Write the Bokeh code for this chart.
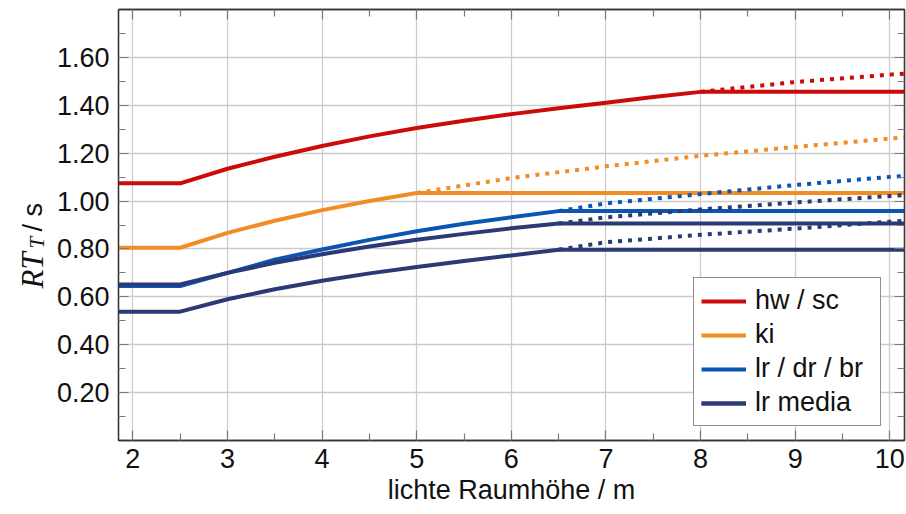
import math
from bokeh.plotting import figure
from bokeh.layouts import row
from bokeh.models import (Range1d, FixedTicker, PrintfTickFormatter, LinearAxis,
                          Legend, LegendItem)
from bokeh.core.properties import value
from bokeh.embed import file_html
from bokeh.resources import INLINE

# ---------------- data ----------------
# hw / sc (solid and dotted extension)
hw_x = [1.85, 2.5, 3, 3.5, 4, 4.5, 5, 5.5, 6, 6.5, 7, 7.5, 8, 10.15]
hw_y = [1.074, 1.074, 1.135, 1.185, 1.230, 1.270, 1.305, 1.335, 1.363, 1.388, 1.411, 1.435, 1.456, 1.456]
hw_ext_x = [8, 9, 10, 10.15]
hw_ext_y = [1.456, 1.497, 1.528, 1.532]

# ki
ki_x = [1.85, 2.5, 3, 3.5, 4, 4.5, 5, 10.15]
ki_y = [0.805, 0.805, 0.867, 0.918, 0.962, 1.000, 1.034, 1.034]
ki_ext_x = [5, 6, 7, 8, 9, 10, 10.15]
ki_ext_y = [1.034, 1.096, 1.145, 1.189, 1.226, 1.261, 1.265]

# lr / dr / br
lr_x = [1.85, 2.5, 3, 3.5, 4, 4.5, 5, 5.5, 6, 6.5, 10.15]
lr_y = [0.645, 0.645, 0.700, 0.755, 0.798, 0.838, 0.874, 0.905, 0.932, 0.958, 0.958]
lr_ext_x = [6.5, 7, 8, 9, 10, 10.15]
lr_ext_y = [0.958, 0.990, 1.029, 1.067, 1.101, 1.105]

# lr media (two curves)
med1_x = [1.85, 2.5, 3, 3.5, 4, 4.5, 5, 5.5, 6, 6.5, 10.15]
med1_y = [0.652, 0.652, 0.700, 0.742, 0.778, 0.810, 0.838, 0.863, 0.886, 0.906, 0.906]
med1_ext_x = [6.5, 7, 8, 9, 10, 10.15]
med1_ext_y = [0.906, 0.932, 0.965, 0.994, 1.021, 1.025]

med2_x = [1.85, 2.5, 3, 3.5, 4, 4.5, 5, 5.5, 6, 6.5, 10.15]
med2_y = [0.538, 0.538, 0.590, 0.632, 0.667, 0.698, 0.725, 0.750, 0.773, 0.797, 0.797]
med2_ext_x = [6.5, 7, 8, 9, 10, 10.15]
med2_ext_y = [0.797, 0.828, 0.859, 0.885, 0.914, 0.918]

x_ticks = [2, 3, 4, 5, 6, 7, 8, 9, 10]
x_minor = [2.5, 3.5, 4.5, 5.5, 6.5, 7.5, 8.5, 9.5]
y_ticks = [0.2, 0.4, 0.6, 0.8, 1.0, 1.2, 1.4, 1.6]
y_minor = [0.1, 0.3, 0.5, 0.7, 0.9, 1.1, 1.3, 1.5, 1.7]

labels = ["hw / sc", "ki", "lr / dr / br", "lr media"]
colors = ["#cc0a0a", "#f28c24", "#0b55b5", "#2b3a75"]

# y-axis title pieces: R T (italic), subscript T, "/ s"
ylab_main = "RT"
ylab_sub = "T"
ylab_unit = "/ s"

# ---------------- layout sizes ----------------
W, H = 906, 514
LAB_W = 90          # width of the y-label strip
OVERLAP = 45        # main figure overlaps the (empty) right part of the strip
FONT = "Liberation Sans"
FS = "27px"

# ---------------- y label strip (pixel-based ranges) ----------------
lab = figure(frame_width=LAB_W, frame_height=H, output_backend="svg",
             toolbar_location=None, title=None,
             x_range=Range1d(0, LAB_W), y_range=Range1d(0, H),
             x_axis_type=None, y_axis_type=None, min_border=0)
lab.grid.visible = False
lab.outline_line_color = None
lab.background_fill_color = "white"
lab.border_fill_color = "white"
lab.text(x=[32], y=[235], text=[ylab_main], angle=math.pi / 2,
         text_font=value("Liberation Serif"), text_font_style="italic",
         text_font_size="31px", text_color="#111111", text_align="left",
         text_baseline="alphabetic")
lab.text(x=[36], y=[275], text=[ylab_sub], angle=math.pi / 2,
         text_font=value("Liberation Serif"), text_font_style="italic",
         text_font_size="21px", text_color="#111111", text_align="left",
         text_baseline="alphabetic")
lab.text(x=[32], y=[292], text=[ylab_unit], angle=math.pi / 2,
         text_font=value(FONT), text_font_size=FS, text_color="#111111",
         text_align="left", text_baseline="alphabetic")

# ---------------- main figure ----------------
MAIN_W = W - LAB_W + OVERLAP
p = figure(width=MAIN_W, height=H, output_backend="svg", toolbar_location=None,
           x_range=Range1d(1.848, 10.155), y_range=Range1d(0, 1.8),
           min_border_left=118 - (LAB_W - OVERLAP), min_border_right=2,
           min_border_top=9, min_border_bottom=74)
p.margin = (0, 0, 0, -OVERLAP)
p.background_fill_color = "white"
p.border_fill_color = "white"
p.border_fill_alpha = 0.0
p.outline_line_color = "#333333"
p.outline_line_width = 1.3

xt = FixedTicker(ticks=x_ticks, minor_ticks=x_minor)
yt = FixedTicker(ticks=y_ticks, minor_ticks=y_minor)

def style_axis(ax, ticker, show_labels):
    ax.ticker = ticker
    ax.axis_line_color = "#333333"
    ax.axis_line_width = 1.3
    ax.major_tick_in = 10
    ax.major_tick_out = 0
    ax.minor_tick_in = 7
    ax.minor_tick_out = 0
    ax.major_tick_line_color = "#7a7a7a"
    ax.minor_tick_line_color = "#7a7a7a"
    ax.major_tick_line_width = 1.2
    ax.minor_tick_line_width = 1.2
    if show_labels:
        ax.major_label_text_font = FONT
        ax.major_label_text_font_size = FS
        ax.major_label_text_color = "#111111"
    else:
        ax.major_label_text_font_size = "1px"
        ax.major_label_text_color = None
        ax.major_label_standoff = 0

style_axis(p.xaxis[0], xt, True)
style_axis(p.yaxis[0], yt, True)
p.yaxis[0].formatter = PrintfTickFormatter(format="%.2f")
p.xaxis[0].formatter = PrintfTickFormatter(format="%d")
p.xaxis[0].major_label_standoff = 8
p.yaxis[0].major_label_standoff = 9
p.xaxis[0].axis_label = "lichte Raumhöhe / m"
p.xaxis[0].axis_label_text_font = FONT
p.xaxis[0].axis_label_text_font_size = FS
p.xaxis[0].axis_label_text_font_style = "normal"
p.xaxis[0].axis_label_text_color = "#111111"
p.xaxis[0].axis_label_standoff = 4

ax_r = LinearAxis()
style_axis(ax_r, yt, False)
p.add_layout(ax_r, "right")
ax_t = LinearAxis()
style_axis(ax_t, xt, False)
p.add_layout(ax_t, "above")

p.xgrid.ticker = xt
p.ygrid.ticker = yt
for g in (p.xgrid[0], p.ygrid[0]):
    g.grid_line_color = "#cccccc"
    g.grid_line_width = 1.3

# ---------------- lines ----------------
LW = 4
DASH = "4 6"
series = [
    (hw_x, hw_y, hw_ext_x, hw_ext_y, 0),
    (ki_x, ki_y, ki_ext_x, ki_ext_y, 1),
    (lr_x, lr_y, lr_ext_x, lr_ext_y, 2),
    (med1_x, med1_y, med1_ext_x, med1_ext_y, 3),
    (med2_x, med2_y, med2_ext_x, med2_ext_y, 3),
]
solid = {0: [], 1: [], 2: [], 3: []}
for sx, sy, ex, ey, ci in series:
    r = p.line(sx, sy, line_color=colors[ci], line_width=LW, line_join="round")
    solid[ci].append(r)
for sx, sy, ex, ey, ci in series:
    p.line(ex, ey, line_color=colors[ci], line_width=LW, line_dash=DASH, line_cap="butt")

items = [LegendItem(label=labels[i], renderers=solid[i]) for i in range(4)]
legend = Legend(items=items, location=(575, 14), orientation="vertical")
legend.label_text_font = FONT
legend.label_text_font_size = FS
legend.label_text_color = "#111111"
legend.glyph_width = 45
legend.glyph_height = 30
legend.label_height = 30
legend.label_width = 118
legend.label_standoff = 9
legend.spacing = 3
legend.padding = 7
legend.margin = 0
legend.border_line_color = "#222222"
legend.border_line_width = 1.3
legend.background_fill_color = "white"
legend.background_fill_alpha = 1.0
p.add_layout(legend, "center")

layout = row(lab, p, spacing=0)
open("out.html", "w").write(file_html(layout, INLINE))
